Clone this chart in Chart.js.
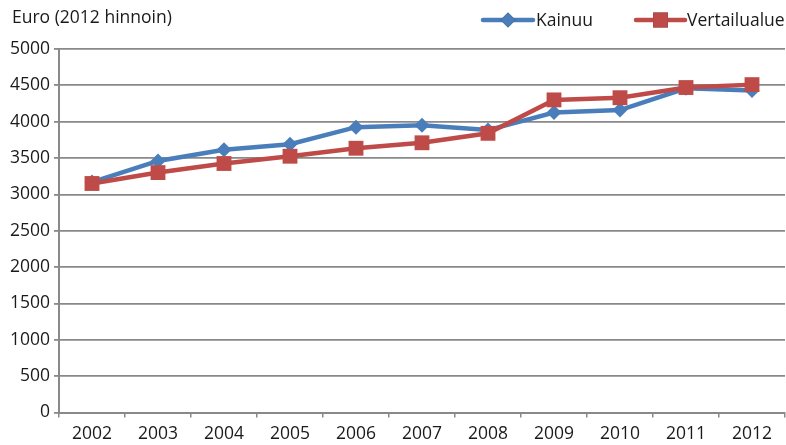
<!DOCTYPE html>
<html>
<head>
<meta charset="utf-8">
<script src="https://cdn.jsdelivr.net/npm/chart.js@4/dist/chart.umd.min.js"></script>
<style>
  html, body { margin: 0; padding: 0; background: #fff; }
  #wrap { width: 786px; height: 445px; position: relative; }
</style>
</head>
<body>
<div id="wrap"><canvas id="c" width="786" height="445"></canvas></div>
<script>
const years = ['2002','2003','2004','2005','2006','2007','2008','2009','2010','2011','2012'];
const kainuu = [3170, 3460, 3615, 3690, 3925, 3950, 3885, 4125, 4160, 4460, 4430];
const vertailualue = [3150, 3300, 3425, 3525, 3635, 3710, 3840, 4300, 4330, 4470, 4510];
const yTicks = [0, 500, 1000, 1500, 2000, 2500, 3000, 3500, 4000, 4500, 5000];
const yTitle = 'Euro (2012 hinnoin)';

const FONT = '"Open Sans", "Noto Sans", sans-serif';
const GRID = '#898989';
const TEXT = '#1a1a1a';
const FS = 17.5;

const topDecor = {
  id: 'topDecor',
  afterDraw(chart) {
    const ctx = chart.ctx;
    ctx.save();
    ctx.fillStyle = TEXT;
    ctx.font = FS + 'px ' + FONT;
    ctx.textBaseline = 'middle';
    ctx.textAlign = 'left';
    ctx.fillText(yTitle, 12, 18);
    const items = [
      { ds: chart.data.datasets[0], x0: 483, x1: 533, tx: 536 },
      { ds: chart.data.datasets[1], x0: 636, x1: 685, tx: 687 }
    ];
    const y = 20;
    items.forEach(it => {
      ctx.strokeStyle = it.ds.borderColor;
      ctx.lineWidth = it.ds.borderWidth;
      ctx.lineCap = 'round';
      ctx.beginPath();
      ctx.moveTo(it.x0, y);
      ctx.lineTo(it.x1, y);
      ctx.stroke();
      Chart.helpers.drawPoint(ctx, {
        pointStyle: it.ds.pointStyle,
        radius: it.ds.pointRadius,
        borderWidth: 0,
        rotation: 0
      }, (it.x0 + it.x1) / 2, y);
      ctx.fillStyle = it.ds.pointBackgroundColor;
      ctx.fill();
      ctx.fillStyle = TEXT;
      ctx.font = FS + 'px ' + FONT;
      ctx.fillText(it.ds.label, it.tx, y + 1);
    });
    ctx.restore();
  }
};

new Chart(document.getElementById('c'), {
  type: 'line',
  data: {
    labels: years,
    datasets: [
      {
        label: 'Kainuu',
        data: kainuu,
        borderColor: '#4A7EBB',
        backgroundColor: '#4A7EBB',
        pointBackgroundColor: '#4A7EBB',
        pointBorderColor: '#4A7EBB',
        borderWidth: 4.5,
        pointStyle: 'rectRot',
        pointRadius: 7.5,
        pointBorderWidth: 0,
        tension: 0,
        clip: false,
        order: 1
      },
      {
        label: 'Vertailualue',
        data: vertailualue,
        borderColor: '#BE4B48',
        backgroundColor: '#BE4B48',
        pointBackgroundColor: '#BE4B48',
        pointBorderColor: '#BE4B48',
        borderWidth: 4.5,
        pointStyle: 'rect',
        pointRadius: 10.5,
        pointBorderWidth: 0,
        tension: 0,
        clip: false,
        order: 0
      }
    ]
  },
  options: {
    responsive: false,
    animation: false,
    devicePixelRatio: 1,
    layout: { autoPadding: false, padding: { top: 49, right: 1, left: 0, bottom: 0 } },
    plugins: {
      legend: { display: false },
      tooltip: { enabled: false },
      title: { display: false }
    },
    scales: {
      x: {
        offset: true,
        grid: {
          display: true,
          offset: true,
          drawOnChartArea: false,
          drawTicks: true,
          tickLength: 5,
          color: GRID,
          lineWidth: 1.5
        },
        border: { display: true, color: GRID, width: 2 },
        ticks: {
          color: TEXT,
          font: { family: FONT, size: FS },
          padding: 6,
          maxRotation: 0,
          autoSkip: false
        },
        afterFit(scale) { scale.height = 32.5; scale.paddingLeft = 0; scale.paddingRight = 0; }
      },
      y: {
        min: 0,
        max: 5000,
        afterBuildTicks(scale) { scale.ticks = yTicks.map(v => ({ value: v })); },
        grid: {
          color: GRID,
          lineWidth: 1.8,
          drawTicks: true,
          tickLength: 5
        },
        border: { display: true, color: GRID, width: 2 },
        ticks: {
          color: TEXT,
          font: { family: FONT, size: FS },
          padding: 4,
          callback: (v) => String(v)
        },
        afterFit(scale) { scale.width = 59; scale.paddingTop = 0; scale.paddingBottom = 0; }
      }
    }
  },
  plugins: [topDecor]
});
</script>
</body>
</html>
